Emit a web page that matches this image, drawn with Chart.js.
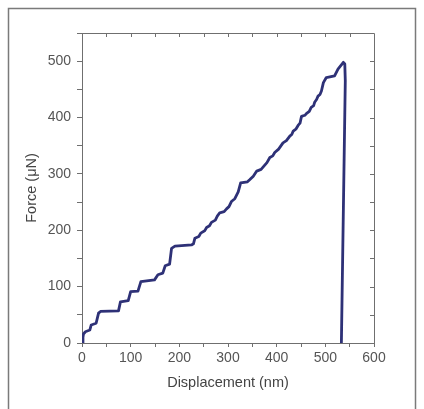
<!DOCTYPE html>
<html>
<head>
<meta charset="utf-8">
<script src="https://cdn.jsdelivr.net/npm/chart.js@4.4.0/dist/chart.umd.min.js"></script>
<style>
  html, body { margin: 0; padding: 0; background: #fff; }
  #wrap { width: 424px; height: 409px; position: relative; }
</style>
</head>
<body>
<div id="wrap"><canvas id="loadCurve"></canvas></div>
<script>
// displacement (nm) and force (uN)
const displacement = [0, 2, 3, 7, 16, 19, 29, 34, 38, 75, 79, 95, 100, 115, 121, 149, 156, 166, 171, 180, 184, 191,
  225, 229, 232, 240, 244, 252, 256, 262, 266, 274, 278, 283, 292, 297, 302, 307, 314, 321, 326, 340, 345, 352,
  359, 368, 372, 380, 386, 392, 396, 404, 413, 420, 427, 431, 434, 440, 444, 448, 451, 458, 461, 467, 471, 476,
  478, 482, 485, 489, 492, 496, 502, 519, 526, 537, 540, 541, 533];
const force = [0, 10, 16, 20, 23, 32, 35, 53, 56, 57, 73, 75, 91, 92, 109, 112, 121, 124, 137, 140, 168, 172,
  174, 176, 186, 189, 195, 199, 205, 208, 214, 218, 225, 231, 233, 238, 242, 251, 256, 268, 284, 286, 290, 296,
  305, 308, 312, 320, 329, 332, 338, 344, 355, 359, 367, 370, 376, 380, 386, 390, 402, 404, 407, 411, 418, 421,
  427, 432, 438, 441, 447, 462, 471, 474, 486, 498, 495, 465, 0];
const xTicks = [0, 100, 200, 300, 400, 500, 600];
const yTicks = [0, 100, 200, 300, 400, 500];

const points = displacement.map((d, i) => ({ x: d, y: force[i] }));

const axisGray = '#6f6f6f';
const textGray = '#555';
const fontFam = 'Liberation Sans, Arial';

// frame round the figure plus mirrored top/right axes with inward ticks
const framePlugin = {
  id: 'frame',
  beforeDraw(chart) {
    const c = chart.ctx;
    c.save();
    c.strokeStyle = '#7a7a7a';
    c.lineWidth = 1.5;
    c.strokeRect(8.5, 8.5, 407, 430);
    c.restore();
  },
  afterDraw(chart) {
    const c = chart.ctx;
    const a = chart.chartArea;
    const xs = chart.scales.x, ys = chart.scales.y;
    c.save();
    c.strokeStyle = axisGray;
    c.lineWidth = 1;
    c.beginPath();
    c.moveTo(a.left, a.top + 0.5);
    c.lineTo(a.right + 0.5, a.top + 0.5);
    c.lineTo(a.right + 0.5, a.bottom);
    for (let v = 50; v < 600; v += 50) {
      const px = Math.round(xs.getPixelForValue(v)) + 0.5;
      c.moveTo(px, a.top);
      c.lineTo(px, a.top + 4);
    }
    for (let v = 50; v <= 500; v += 50) {
      const py = Math.round(ys.getPixelForValue(v)) + 0.5;
      c.moveTo(a.right, py);
      c.lineTo(a.right - 4, py);
    }
    c.stroke();
    c.restore();
  }
};

new Chart(document.getElementById('loadCurve'), {
  type: 'scatter',
  data: {
    datasets: [{
      data: points,
      showLine: true,
      borderColor: '#2e3177',
      borderWidth: 2.8,
      pointRadius: 0,
      tension: 0,
      borderJoinStyle: 'round'
    }]
  },
  options: {
    responsive: true,
    maintainAspectRatio: false,
    animation: false,
    events: [],
    layout: { padding: { left: 0, top: 33, right: 50, bottom: 0 } },
    plugins: { legend: { display: false }, tooltip: { enabled: false } },
    scales: {
      x: {
        type: 'linear',
        min: 0, max: 600,
        afterFit: s => { s.height = 66; },
        afterBuildTicks: s => { s.ticks = []; for (let v = 0; v <= 600; v += 50) s.ticks.push({ value: v }); },
        border: { color: axisGray, width: 1 },
        grid: { drawOnChartArea: false, drawTicks: true, tickLength: 4, color: axisGray },
        ticks: {
          color: textGray, padding: 3, maxRotation: 0, autoSkip: false,
          font: { family: fontFam, size: 14 },
          callback: v => xTicks.includes(v) ? String(v) : ''
        },
        title: {
          display: true, text: 'Displacement (nm)', color: '#444',
          font: { family: fontFam, size: 14.5 },
          padding: { top: 0, bottom: 17 }
        }
      },
      y: {
        type: 'linear',
        min: 0, max: 550,
        afterFit: s => { s.width = 82; },
        afterBuildTicks: s => { s.ticks = []; for (let v = 0; v <= 550; v += 50) s.ticks.push({ value: v }); },
        border: { color: axisGray, width: 1 },
        grid: { drawOnChartArea: false, drawTicks: true, tickLength: 5, color: axisGray },
        ticks: {
          color: textGray, padding: 6, autoSkip: false,
          font: { family: fontFam, size: 14 },
          callback: v => yTicks.includes(v) ? String(v) : ''
        },
        title: {
          display: true, text: 'Force (μN)', color: '#444',
          font: { family: fontFam, size: 14.5 },
          padding: { top: 23, bottom: 0 }
        }
      }
    }
  },
  plugins: [framePlugin]
});
</script>
</body>
</html>
